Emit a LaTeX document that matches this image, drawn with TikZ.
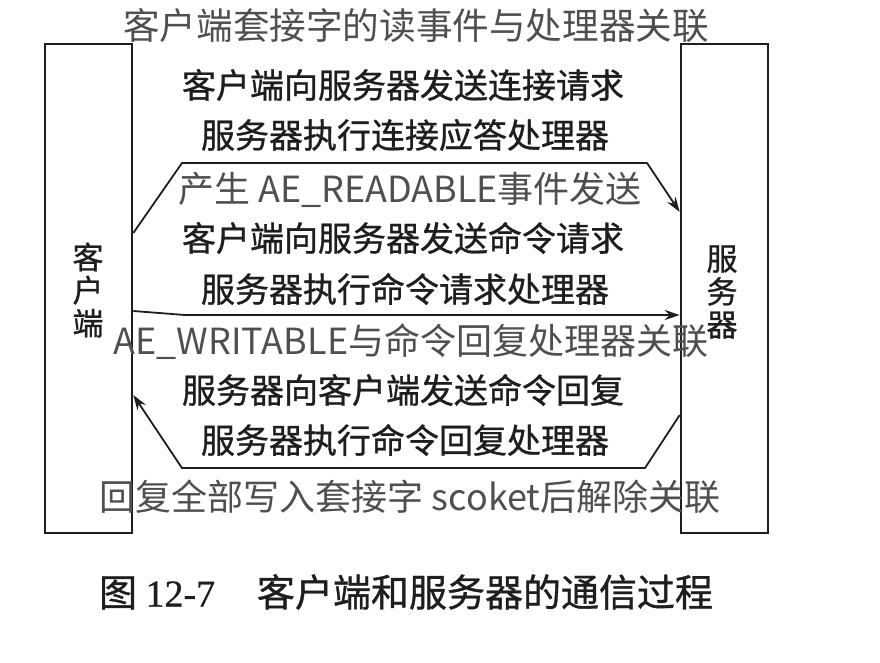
\documentclass[tikz,border=0pt]{standalone}
\usepackage{fontspec}
\usetikzlibrary{arrows.meta}
\newfontfamily\cjk{Noto Sans CJK SC}
\newfontfamily\cjkmed{Noto Sans CJK SC}[FakeBold=0.9]
\newfontfamily\capserif{Liberation Serif}[FakeBold=0.6]
\definecolor{ink}{HTML}{1E1E1E}
\definecolor{note}{HTML}{4F4F4F}
\begin{document}
\begin{tikzpicture}[x=1pt,y=-1pt,
  party/.style={draw=ink, line width=2.6pt, inner sep=0pt,
    minimum width=87pt, minimum height=489pt},
  partylabel/.style={font=\cjkmed\fontsize{31}{33}\selectfont, text=ink,
    align=center, inner sep=0pt},
  flow/.style={draw=ink, line width=1.8pt, line join=round,
    -{Stealth[length=15pt,width=10pt]}},
  scan/.style={font=\cjkmed\fontsize{34}{34}\selectfont, text=ink, inner sep=0pt},
  note/.style={font=\cjk\fontsize{36}{36}\selectfont, text=note, inner sep=0pt},
  caption/.style={font=\cjkmed\fontsize{38}{38}\selectfont, text=ink, inner sep=0pt}
]
\useasboundingbox (0,0) rectangle (880,662);

% the two communicating parties
\node[party] (client) at (88.5,288.5) {};
\node[party] (server) at (724.5,288.5) {};
\node[partylabel] (clientlabel) at (88,290) {客\\户\\端};
\node[partylabel] (serverlabel) at (722,292) {服\\务\\器};

% message flows between the parties
\draw[flow] (client.east |- 0,233) -- (182,163) -- (647,163) -- (server.west |- 0,212);
\draw[flow] (client.east |- 0,311) -- (185,315) -- (server.west |- 0,315);
\draw[flow] (server.west |- 0,415) -- (645,468) -- (182,468) -- (client.east |- 0,395);

% step descriptions
\node[scan] (s1) at (403,85)  {客户端向服务器发送连接请求};
\node[scan] (s2) at (405,135) {服务器执行连接应答处理器};
\node[scan] (s3) at (403,238) {客户端向服务器发送命令请求};
\node[scan] (s4) at (405,289) {服务器执行命令请求处理器};
\node[scan] (s5) at (403,390) {服务器向客户端发送命令回复};
\node[scan] (s6) at (405,440) {服务器执行命令回复处理器};

% event annotations
\node[note, font=\cjk\fontsize{36.6}{36.6}\selectfont] (n1) at (416,26)  {客户端套接字的读事件与处理器关联};
\node[note] (n2) at (410,190) {产生 AE\_READABLE事件发送};
\node[note] (n3) at (411,342) {AE\_WRITABLE与命令回复处理器关联};
\node[note] (n4) at (410,497) {回复全部写入套接字 scoket后解除关联};

% figure caption
\node[caption] (cap) at (406,592) {图 {\capserif 12-7}\hspace{1.1em}客户端和服务器的通信过程};
\end{tikzpicture}
\end{document}
